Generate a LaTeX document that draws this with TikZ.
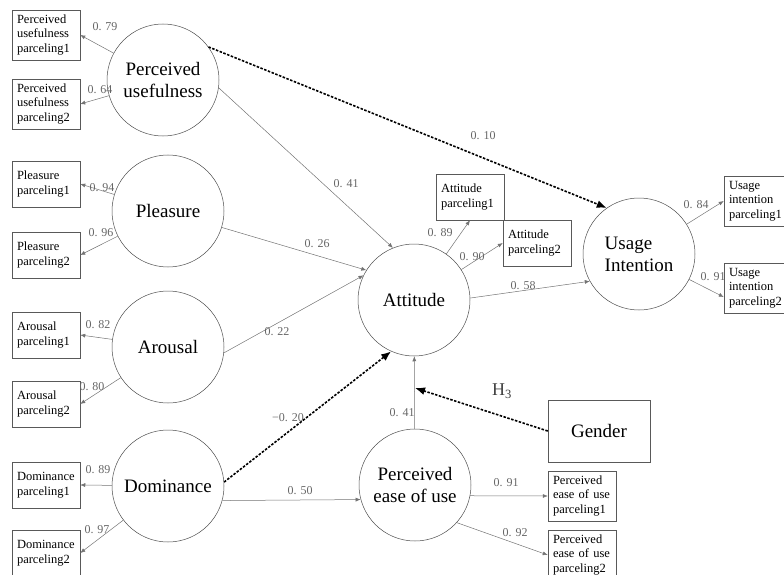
\documentclass[tikz,border=0pt]{standalone}
\usepackage{fontspec}
\setmainfont{Liberation Serif}
\usetikzlibrary{arrows.meta}

\begin{document}
\begin{tikzpicture}[
  x=1pt, y=-1pt,
  latent/.style={circle, draw=black!70, line width=0.5pt, minimum size=112pt, inner sep=0pt, align=center, font=\fontsize{19}{22}\selectfont},
  parcel/.style={rectangle, draw=black!65, line width=0.5pt, text width=58pt, inner sep=5pt, minimum height=46pt, align=left, font=\fontsize{12.5}{14.5}\selectfont},
  coef/.style={text=black!60, inner sep=1pt, font=\fontsize{12}{14}\selectfont},
  ind/.style={draw=black!55, line width=0.5pt, -{Latex[length=5pt,width=4pt]}},
  moder/.style={draw=black, line width=1.6pt, dash pattern=on 2.5pt off 1.5pt, -{Latex[length=10pt,width=8pt]}}
]
\useasboundingbox (0,0) rectangle (784,575);

% latent variables:
\node[latent] (pu) at (163,80) {Perceived\\usefulness};
\node[latent] (pl) at (168,211) {Pleasure};
\node[latent] (ar) at (168,347) {Arousal};
\node[latent] (do) at (168,486) {Dominance};
\node[latent] (att) at (414,300) {Attitude};
\node[latent, align=left] (ui) at (639,254) {Usage\\Intention};
\node[latent] (pe) at (415,485) {Perceived\\ease of use};
\node[draw=black!65, line width=0.5pt, minimum width=102pt, minimum height=62pt, font=\fontsize{19}{22}\selectfont] (gen) at (599,431) {Gender};

% parcels:
\node[parcel] (pu1) at (46,35) {Perceived\\usefulness\\parceling1};
\node[parcel] (pu2) at (46,104) {Perceived\\usefulness\\parceling2};
\node[parcel] (pl1) at (46,184) {Pleasure\\parceling1};
\node[parcel] (pl2) at (46,255) {Pleasure\\parceling2};
\node[parcel] (ar1) at (46,335) {Arousal\\parceling1};
\node[parcel] (ar2) at (46,404) {Arousal\\parceling2};
\node[parcel] (do1) at (46,485) {Dominance\\parceling1};
\node[parcel] (do2) at (46,553) {Dominance\\parceling2};
\node[parcel] (at1) at (470,197) {Attitude\\parceling1};
\node[parcel] (at2) at (537,243) {Attitude\\parceling2};
\node[parcel] (ui1) at (758,201) {Usage\\intention\\parceling1};
\node[parcel] (ui2) at (758,288) {Usage\\intention\\parceling2};
\node[parcel] (pe1) at (582,496) {Perceived\\ease of use\\parceling1};
\node[parcel] (pe2) at (582,555) {Perceived\\ease of use\\parceling2};

% loadings on the left
\foreach \lv/\mv in {pu/pu1, pu/pu2, pl/pl1, pl/pl2, ar/ar1, ar/ar2, do/do1, do/do2}
  \draw[ind] (\lv) -- (\mv.east);

\draw[ind] (att) -- (at1.south);
\draw[ind] (att) -- (at2.west);
\draw[ind] (ui) -- (ui1.west);
\draw[ind] (ui) -- ([yshift=-9pt]ui2.west);
\draw[ind] (pe.-11) -- (pe1.west);
\draw[ind] (pe.-42) -- (pe2.west);

% paths
\draw[ind] (pu.-8) -- (att.112);
\draw[ind] (pl.-17) -- (att.148);
\draw[ind] (ar.-6) -- (att.154);
\draw[ind] (do.-15) -- (pe.195);
\draw[ind] (pe) -- (att);
\draw[ind] (att.2) -- (ui.209);
\draw[moder] (pu.36) -- (ui.125);
\draw[moder] (do.4) -- (att.246);
\coordinate (h3) at (415,388);
\draw[moder] (gen.west) -- (h3);

% coefficients:
\foreach \p/\t [count=\i] in {{(105,27)}/0. 79, {(100,90)}/0. 64, {(102,188)}/0. 94, {(101,233)}/0. 96,
    {(98,325)}/0. 82, {(92,387)}/0. 80, {(98,470)}/0. 89, {(97,530)}/0. 97,
    {(346,184)}/0. 41, {(483,136)}/0. 10, {(317,244)}/0. 26, {(277,332)}/0. 22,
    {(288,418)}/−0. 20, {(300,491)}/0. 50, {(402,413)}/0. 41, {(440,233)}/0. 89,
    {(472,257)}/0. 90, {(523,286)}/0. 58, {(696,205)}/0. 84, {(713,277)}/0. 91,
    {(506,483)}/0. 91, {(515,533)}/0. 92}
  \node[coef] (w\i) at \p {\t};
\node[text=black!75, font=\fontsize{18}{20}\selectfont] (hyp) at (502,391) {H\textsubscript{3}};

\end{tikzpicture}
\end{document}
